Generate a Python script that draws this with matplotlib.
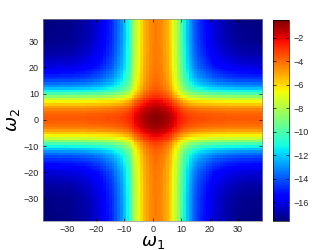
import numpy as np
import matplotlib
matplotlib.use("Agg")
import matplotlib.pyplot as plt

# distance from band centre (in omega units) at which edge values were read
edge_offsets = [0, 2, 4, 5, 6, 7, 8, 10, 12, 15, 20, 25, 30, 38, 60]
# values read along top edge (vertical band, across omega_1)
top_edge_vals = [-4.3, -4.6, -5.3, -6.0, -6.8, -7.6, -8.8, -11.3, -13.0, -14.6, -16.2, -17.0, -17.4, -17.56, -17.56]
# values read along left edge (horizontal band, across omega_2)
left_edge_vals = [-3.6, -3.9, -4.6, -5.3, -6.1, -6.9, -8.1, -10.8, -12.7, -14.5, -16.2, -17.0, -17.4, -17.56, -17.56]
vert_band_center = 1.0
horiz_band_center = 0.5
vmin, vmax = -17.56, -0.5
xticks = [-30, -20, -10, 0, 10, 20, 30]
yticks = [-30, -20, -10, 0, 10, 20, 30]
cbar_ticks = [-16, -14, -12, -10, -8, -6, -4, -2]

k = 5.0
far = np.exp(vmin / k) / 2

def band(vals, d):
    e = np.interp(d, edge_offsets, vals)
    p = np.exp(e / k) - far
    return np.clip(p, 1e-6, None)

w = np.arange(-38, 39)
W1, W2 = np.meshgrid(w, w)
P1 = band(top_edge_vals, np.abs(W1 - vert_band_center))
P2 = band(left_edge_vals, np.abs(W2 - horiz_band_center))
Z = k * np.log(P1 + P2)
Z = np.clip(Z, vmin, vmax)

plt.rcParams['font.family'] = ['Liberation Sans', 'DejaVu Sans']
fig = plt.figure(figsize=(3.32, 2.5), dpi=100)
ax = fig.add_axes([0.130, 0.117, 0.660, 0.807])
im = ax.imshow(Z, origin='lower', extent=[-38.5, 38.5, -38.5, 38.5],
               aspect='auto', cmap='jet', vmin=vmin, vmax=vmax,
               interpolation='nearest')
ax.set_xticks(xticks)
ax.set_yticks(yticks)
ax.tick_params(direction='in', length=2, labelsize=6.5, top=True, right=True,
               width=0.5, pad=3, labelcolor='#222222')
for s in ax.spines.values():
    s.set_linewidth(0.5)
    s.set_color('#888888')
ax.set_xlabel(r'$\omega_1$', fontsize=13, labelpad=0)
ax.set_ylabel(r'$\omega_2$', fontsize=13, labelpad=1)

cax = fig.add_axes([0.822, 0.117, 0.047, 0.803])
cb = fig.colorbar(im, cax=cax, ticks=cbar_ticks)
cb.ax.tick_params(direction='in', length=2, labelsize=6.5, width=0.5, left=True, right=True,
                  labelcolor='#222222')
cb.outline.set_linewidth(0.5)
cb.ax.set_yticklabels([f"\u2212{abs(t)}" for t in cbar_ticks])
ax.set_xticklabels([f"\u2212{abs(t)}" if t < 0 else str(t) for t in xticks])
ax.set_yticklabels([f"\u2212{abs(t)}" if t < 0 else str(t) for t in yticks])

fig.savefig("out.png", dpi=100)
